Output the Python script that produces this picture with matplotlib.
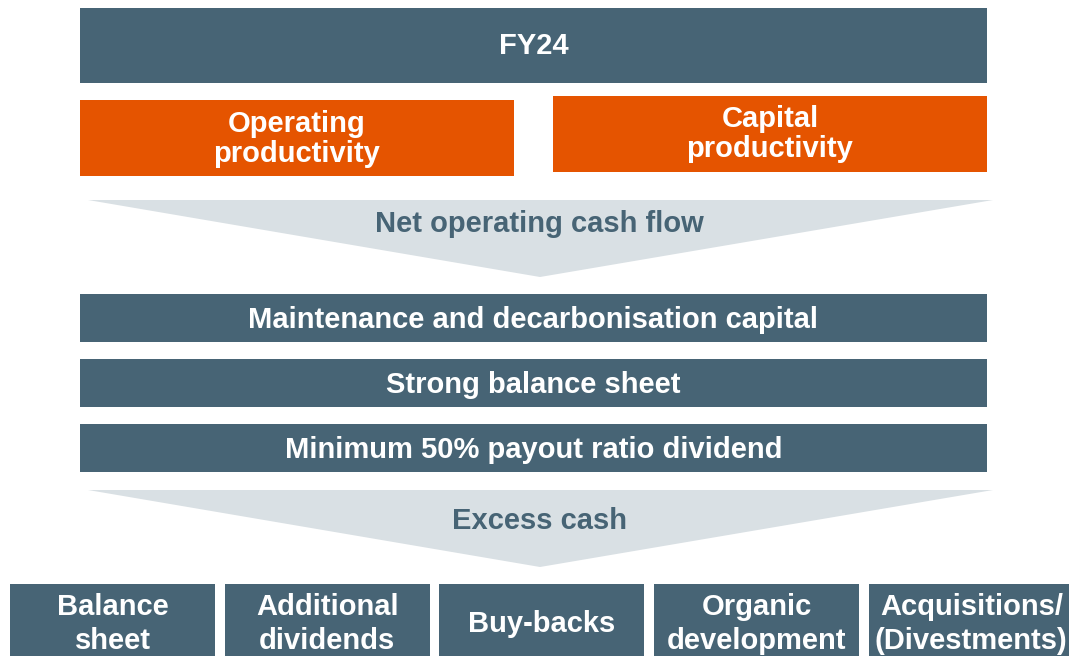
import matplotlib
matplotlib.use("Agg")
import matplotlib.pyplot as plt
from matplotlib.patches import Rectangle, Polygon

# diagram text
top_label = "FY24"
driver_labels = ["Operating\nproductivity", "Capital\nproductivity"]
flow_labels = ["Net operating cash flow", "Excess cash"]
priority_labels = ["Maintenance and decarbonisation capital",
                   "Strong balance sheet",
                   "Minimum 50% payout ratio dividend"]
alloc_labels = ["Balance\nsheet", "Additional\ndividends", "Buy-backs",
                "Organic\ndevelopment", "Acquisitions/\n(Divestments)"]

DARK = "#476475"
ORANGE = "#E55400"
PALE = "#D9E0E4"
FONT = ["Liberation Sans", "DejaVu Sans"]

W, H = 1069, 656
fig = plt.figure(figsize=(W / 100, H / 100), dpi=100)
ax = fig.add_axes([0, 0, 1, 1])
ax.set_xlim(0, W)
ax.set_ylim(H, 0)
ax.axis("off")


def box(x0, y0, w, h, color, text, size=21, ls=1.08, dy=2):
    ax.add_patch(Rectangle((x0, y0), w, h, facecolor=color, edgecolor="none"))
    ax.text(x0 + w / 2, y0 + h / 2 + dy, text, ha="center", va="center",
            color="white", fontsize=size, fontweight="bold", family=FONT,
            linespacing=ls)


def chevron(y0, tip_y, text, dy):
    ax.add_patch(Polygon([(88, y0), (993, y0), (540, tip_y)],
                         closed=True, facecolor=PALE, edgecolor="none"))
    ax.text(539, y0 + dy, text, ha="center", va="center", color=DARK,
            fontsize=21, fontweight="bold", family=FONT)


# top bar
box(80, 8, 907, 75, DARK, top_label, dy=1)

# drivers
box(80, 100, 434, 76, ORANGE, driver_labels[0], dy=1)
box(553, 96, 434, 76, ORANGE, driver_labels[1], dy=0)

chevron(200, 277, flow_labels[0], 24)

# priorities
for i, lab in enumerate(priority_labels):
    box(80, 294 + i * 65, 907, 48, DARK, lab)

chevron(490, 567, flow_labels[1], 31)

# allocation boxes (run off bottom/right edge like the slide crop)
for i, lab in enumerate(alloc_labels):
    x0 = 10 + i * 214.7
    ax.add_patch(Rectangle((x0, 584), 205, 90, facecolor=DARK, edgecolor="none"))
    ax.text(x0 + 102.5, 624, lab, ha="center", va="center", color="white",
            fontsize=21, fontweight="bold", family=FONT, linespacing=1.25)

fig.savefig("out.png", dpi=100, facecolor="white")
